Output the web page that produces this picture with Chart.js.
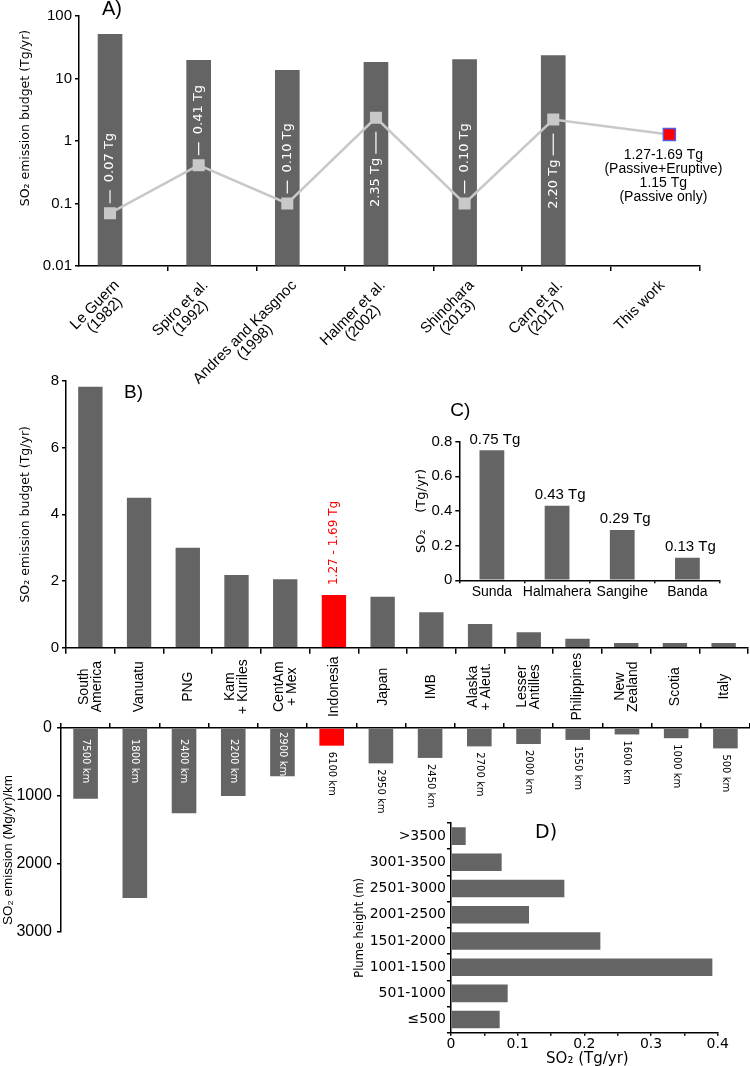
<!DOCTYPE html>
<html>
<head>
<meta charset="utf-8">
<script src="https://cdn.jsdelivr.net/npm/chart.js@4.4.1/dist/chart.umd.min.js"></script>
<style>
  body { margin: 0; background: #fff; }
  #fig { position: relative; width: 750px; height: 1066px; overflow: hidden; }
  canvas { position: absolute; }
</style>
</head>
<body>
<div id="fig">
  <canvas id="chartA" width="750" height="400" style="left:0;top:0"></canvas>
  <canvas id="chartB" width="750" height="380" style="left:0;top:360px"></canvas>
  <canvas id="chartBkm" width="750" height="260" style="left:0;top:700px"></canvas>
  <canvas id="chartC" width="370" height="230" style="left:380px;top:390px"></canvas>
  <canvas id="chartD" width="410" height="266" style="left:340px;top:800px"></canvas>
</div>
<script>
// A) global budgets from earlier studies (bars) and arc budgets (line)
const studies = [['Le Guern', '(1982)'], ['Spiro et al.', '(1992)'], ['Andres and Kasgnoc', '(1998)'],
  ['Halmer et al.', '(2002)'], ['Shinohara', '(2013)'], ['Carn et al.', '(2017)'], ['This work']];
const studyPos = [0, 1, 2, 3, 4, 5, 6.31];
const globalBudget = [51, 19.5, 13.5, 18.2, 20, 23.2];
const arcBudget = [0.07, 0.41, 0.10, 2.35, 0.10, 2.20, 1.27];
const arcBudgetLabels = ['0.07 Tg', '0.41 Tg', '0.10 Tg', '2.35 Tg', '0.10 Tg', '2.20 Tg'];
const thisWorkNote = ['1.27-1.69 Tg', '(Passive+Eruptive)', '1.15 Tg', '(Passive only)'];
const logTicks = [0.01, 0.1, 1, 10, 100];
const logTickLabels = ['0.01', '0.1', '1', '10', '100'];

// B) budget per arc, and per km of arc
const arcs = [['South', 'America'], ['Vanuatu'], ['PNG'], ['Kam', '+ Kuriles'], ['CentAm', '+ Mex'], ['Indonesia'],
  ['Japan'], ['IMB'], ['Alaska', '+ Aleut.'], ['Lesser', 'Antilles'], ['Philippines'], ['New', 'Zealand'], ['Scotia'], ['Italy']];
const arcNames = arcs.map(l => l.join(' '));
const arcTotal = [7.83, 4.5, 3.0, 2.18, 2.05, 1.58, 1.53, 1.06, 0.71, 0.46, 0.27, 0.14, 0.14, 0.14];
const arcLength = ['7500 km', '1800 km', '2400 km', '2200 km', '2900 km', '6100 km', '2950 km', '2450 km',
  '2700 km', '2000 km', '1550 km', '1600 km', '1000 km', '500 km'];
const arcPerKm = [1040, 2500, 1255, 1000, 710, 260, 520, 440, 270, 235, 175, 95, 150, 300];
const highlight = 'Indonesia';
const highlightRange = '1.27 - 1.69 Tg';

// C) Indonesian segments
const segments = ['Sunda', 'Halmahera', 'Sangihe', 'Banda'];
const segmentBudget = [0.75, 0.43, 0.29, 0.13];
const segmentLabels = ['0.75 Tg', '0.43 Tg', '0.29 Tg', '0.13 Tg'];
const segmentTicks = ['0', '0.2', '0.4', '0.6', '0.8'];

// D) budget by plume height
const plumeBins = ['>3500', '3001-3500', '2501-3000', '2001-2500', '1501-2000', '1001-1500', '501-1000', '≤500'];
const plumeBudget = [0.022, 0.076, 0.17, 0.117, 0.224, 0.392, 0.085, 0.073];
const plumeTicks = ['0', '0.1', '0.2', '0.3', '0.4'];

const GRAY = '#646464', RED = '#ff0000', BLACK = '#000';
const SANS = '"Liberation Sans", Arial, sans-serif';
const DEJAVU = '"DejaVu Sans", sans-serif';
Chart.defaults.font.family = SANS;
Chart.defaults.color = BLACK;

const border = { color: BLACK, width: 1.5 };
const marks = len => ({ drawOnChartArea: false, drawTicks: true, tickLength: len, color: BLACK, lineWidth: 1.5 });
const baseOptions = padding => ({
  responsive: false, animation: false, events: [],
  layout: { padding },
  plugins: { legend: { display: false }, tooltip: { enabled: false } }
});
const width = w => s => { s.width = w; };
const height = h => s => { s.height = h; };

function text(ctx, str, x, y, font, color, align, angle) {
  ctx.save();
  ctx.translate(x, y);
  ctx.rotate(angle || 0);
  ctx.font = font;
  ctx.fillStyle = color;
  ctx.textAlign = align || 'center';
  ctx.textBaseline = 'middle';
  ctx.fillText(str, 0, 0);
  ctx.restore();
}

// ---------- A ----------
const panelA = {
  id: 'panelA',
  afterDraw(chart) {
    const { ctx, chartArea: a, scales: { x, y } } = chart;
    ctx.save();
    const f = '13px ' + DEJAVU;
    ctx.font = f;
    arcBudgetLabels.forEach((lab, i) => {
      const px = x.getPixelForValue(studyPos[i]);
      const py = y.getPixelForValue(arcBudget[i]);
      const w = ctx.measureText(lab).width;
      let y0, y1, ty;
      if (arcBudget[i] < 1) { y0 = py - 10; y1 = py - 23; ty = py - 31; }
      else { y0 = py + 14; y1 = py + 36; ty = py + 40 + w; }
      ctx.strokeStyle = '#fff';
      ctx.lineWidth = 1.2;
      ctx.beginPath(); ctx.moveTo(px, y0); ctx.lineTo(px, y1); ctx.stroke();
      text(ctx, lab, px, ty, f, '#fff', 'left', -Math.PI / 2);
    });

    // rotated study names, lines centred on each other
    studies.forEach((lines, i) => {
      const px = x.getPixelForValue(studyPos[i]) + (i < globalBudget.length ? 7 : -7);
      const py = a.bottom + 17;
      ctx.save();
      ctx.translate(px, py);
      ctx.rotate(-Math.PI / 4);
      ctx.font = '15px ' + SANS;
      ctx.fillStyle = BLACK;
      ctx.textAlign = 'center';
      ctx.textBaseline = 'middle';
      const w1 = ctx.measureText(lines[0]).width;
      lines.forEach((l, j) => ctx.fillText(l, -w1 / 2, j * 14));
      ctx.restore();
    });

    const last = studyPos.length - 1;
    const nx = x.getPixelForValue(studyPos[last]) - 6;
    const ny = y.getPixelForValue(arcBudget[last]);
    thisWorkNote.forEach((l, j) => text(ctx, l, nx, ny + 21 + j * 14, '14px ' + SANS, BLACK));

    text(ctx, 'A)', a.left + 23, a.top - 7, '20px ' + SANS, BLACK, 'left');
    text(ctx, 'SO₂ emission budget (Tg/yr)', a.left - 53, a.top + 102, '12.5px ' + DEJAVU, BLACK, 'center', -Math.PI / 2);
    ctx.restore();
  }
};

const lastIdx = studyPos.length - 1;
new Chart(document.getElementById('chartA'), {
  type: 'bar',
  data: {
    datasets: [{
      type: 'line',
      data: studyPos.map((x, i) => ({ x, y: arcBudget[i] })),
      borderColor: '#c8c8c8',
      borderWidth: 2.5,
      pointStyle: 'rect',
      pointRadius: 8.5,
      pointBackgroundColor: studyPos.map((_, i) => i === lastIdx ? RED : '#c8c8c8'),
      pointBorderColor: studyPos.map((_, i) => i === lastIdx ? '#5a5ae0' : '#c8c8c8'),
      pointBorderWidth: studyPos.map((_, i) => i === lastIdx ? 1.5 : 0),
      order: 0
    }, {
      type: 'bar',
      data: globalBudget.map((y, i) => ({ x: studyPos[i], y })),
      backgroundColor: GRAY,
      barThickness: 24,
      base: 0.01,
      order: 1
    }]
  },
  options: {
    ...baseOptions({ top: 16, right: 50.5, bottom: 134, left: 0 }),
    scales: {
      x: {
        type: 'linear', min: -0.35, max: 6.65, offset: false,
        afterBuildTicks: s => { s.ticks = [1, 2, 3, 4, 5, 6, 7].map(k => ({ value: k - 0.35 })); },
        ticks: { display: false },
        grid: { ...marks(5), offset: false },
        border, afterFit: height(0)
      },
      y: {
        type: 'logarithmic', min: 0.01, max: 100, beginAtZero: false,
        afterBuildTicks: s => { s.ticks = logTicks.map(v => ({ value: v })); },
        ticks: { callback: (v, i) => logTickLabels[i], font: { size: 15 }, padding: 3 },
        grid: marks(4),
        border, afterFit: width(79)
      }
    }
  },
  plugins: [panelA]
});

// ---------- B (budget per arc) ----------
const hi = arcNames.indexOf(highlight);
const arcColors = arcNames.map((_, i) => i === hi ? RED : GRAY);

const panelB = {
  id: 'panelB',
  afterDraw(chart) {
    const { ctx, chartArea: a, scales: { x, y } } = chart;
    const top = y.getPixelForValue(arcTotal[hi]);
    text(ctx, highlightRange, x.getPixelForValue(hi), top - 10, '12px ' + DEJAVU, RED, 'left', -Math.PI / 2);

    arcs.forEach((lines, i) => {
      const px = x.getPixelForValue(i);
      ctx.save();
      ctx.translate(px, a.bottom + 39);
      ctx.rotate(-Math.PI / 2);
      ctx.font = '14px ' + SANS;
      ctx.fillStyle = BLACK;
      ctx.textAlign = 'center';
      ctx.textBaseline = 'middle';
      lines.forEach((l, j) => ctx.fillText(l, 0, (j - (lines.length - 1) / 2) * 13));
      ctx.restore();
    });

    text(ctx, 'B)', a.left + 58, a.top + 12, '19px ' + SANS, BLACK, 'left');
    text(ctx, 'SO₂ emission budget (Tg/yr)', a.left - 40, (a.top + a.bottom) / 2, '12.5px ' + DEJAVU, BLACK, 'center', -Math.PI / 2);
  }
};

new Chart(document.getElementById('chartB'), {
  type: 'bar',
  data: {
    labels: arcNames,
    datasets: [{ data: arcTotal, backgroundColor: arcColors, barPercentage: 0.5, categoryPercentage: 1 }]
  },
  options: {
    ...baseOptions({ top: 21, right: 2, bottom: 92.3, left: 0 }),
    scales: {
      x: { ticks: { display: false }, grid: { ...marks(6), offset: true }, border, afterFit: height(0) },
      y: {
        min: 0, max: 8,
        ticks: { stepSize: 2, font: { size: 15 }, padding: 3 },
        grid: marks(4), border, afterFit: width(66)
      }
    }
  },
  plugins: [panelB]
});

// ---------- B (per km, downward) ----------
const panelBkm = {
  id: 'panelBkm',
  afterDraw(chart) {
    const { ctx, chartArea: a, scales: { x, y } } = chart;
    const y0 = y.getPixelForValue(0);
    arcPerKm.forEach((v, i) => {
      const px = x.getPixelForValue(i);
      const y1 = y.getPixelForValue(v);
      const inside = v > 600;
      const start = inside ? y0 + (y1 - y0 < 60 ? 4 : 11) : y1 + 6;
      text(ctx, arcLength[i], px, start, '10px ' + DEJAVU, inside ? '#fff' : BLACK, 'left', Math.PI / 2);
    });
    text(ctx, 'SO₂ emission (Mg/yr)/km', a.left - 53, a.top + 122, '13.5px ' + SANS, BLACK, 'center', -Math.PI / 2);
  }
};

new Chart(document.getElementById('chartBkm'), {
  type: 'bar',
  data: {
    labels: arcNames,
    datasets: [{ data: arcPerKm, backgroundColor: arcColors, barPercentage: 0.5, categoryPercentage: 1 }]
  },
  options: {
    ...baseOptions({ top: 28, right: 0, bottom: 28, left: 0 }),
    scales: {
      x: { position: 'top', ticks: { display: false }, grid: { ...marks(5), offset: true }, border, afterFit: height(0) },
      y: {
        reverse: true, min: 0, max: 3000,
        ticks: { stepSize: 1000, callback: v => String(v), font: { size: 16 }, padding: 5 },
        grid: marks(4), border, afterFit: width(61)
      }
    }
  },
  plugins: [panelBkm]
});

// ---------- C ----------
const panelC = {
  id: 'panelC',
  afterDraw(chart) {
    const { ctx, chartArea: a, scales: { x, y } } = chart;
    segmentLabels.forEach((lab, i) => {
      text(ctx, lab, x.getPixelForValue(i) + 3, y.getPixelForValue(segmentBudget[i]) - 11, '15px ' + SANS, BLACK);
    });
    text(ctx, 'C)', a.left - 9, a.top - 31, '19px ' + SANS, BLACK, 'left');
    text(ctx, 'SO₂    (Tg/yr)', a.left - 38, (a.top + a.bottom) / 2, '13px ' + DEJAVU, BLACK, 'center', -Math.PI / 2);
  }
};

new Chart(document.getElementById('chartC'), {
  type: 'bar',
  data: {
    labels: segments,
    datasets: [{ data: segmentBudget, backgroundColor: GRAY, barPercentage: 0.38, categoryPercentage: 1 }]
  },
  options: {
    ...baseOptions({ top: 51.7, right: 30, bottom: 0, left: 0 }),
    scales: {
      x: {
        ticks: { font: { size: 14 }, padding: 0, maxRotation: 0, minRotation: 0, autoSkip: false },
        grid: { ...marks(3), offset: true }, border, afterFit: height(39.7)
      },
      y: {
        min: 0, max: 0.8,
        ticks: { stepSize: 0.2, callback: (v, i) => segmentTicks[i], font: { size: 15 }, padding: 3 },
        grid: marks(4), border, afterFit: width(79.3)
      }
    }
  },
  plugins: [panelC]
});

// ---------- D ----------
const panelD = {
  id: 'panelD',
  afterDraw(chart) {
    const { ctx, chartArea: a } = chart;
    text(ctx, 'D)', a.left + 84, a.top + 10, '19px ' + DEJAVU, BLACK, 'left');
    text(ctx, 'SO₂ (Tg/yr)', (a.left + a.right) / 2 + 3, a.bottom + 26, '15px ' + DEJAVU, BLACK);
    text(ctx, 'Plume height (m)', a.left - 91, (a.top + a.bottom) / 2, '11.5px ' + DEJAVU, BLACK, 'center', -Math.PI / 2);
  }
};

new Chart(document.getElementById('chartD'), {
  type: 'bar',
  data: {
    labels: plumeBins,
    datasets: [{ data: plumeBudget, backgroundColor: GRAY, barPercentage: 0.67, categoryPercentage: 1 }]
  },
  options: {
    ...baseOptions({ top: 23, right: 32.3, bottom: 0, left: 0 }),
    indexAxis: 'y',
    scales: {
      x: {
        min: 0, max: 0.4,
        ticks: {
          stepSize: 0.05, autoSkip: false, maxRotation: 0,
          callback: (v, i) => i % 2 === 0 ? plumeTicks[i / 2] : '',
          font: { family: DEJAVU, size: 14 }, padding: 0
        },
        grid: marks(3), border, afterFit: height(33.3)
      },
      y: {
        ticks: { font: { family: DEJAVU, size: 14 }, padding: 1 },
        grid: { ...marks(4), offset: true }, border, afterFit: width(111)
      }
    }
  },
  plugins: [panelD]
});
</script>
</body>
</html>
